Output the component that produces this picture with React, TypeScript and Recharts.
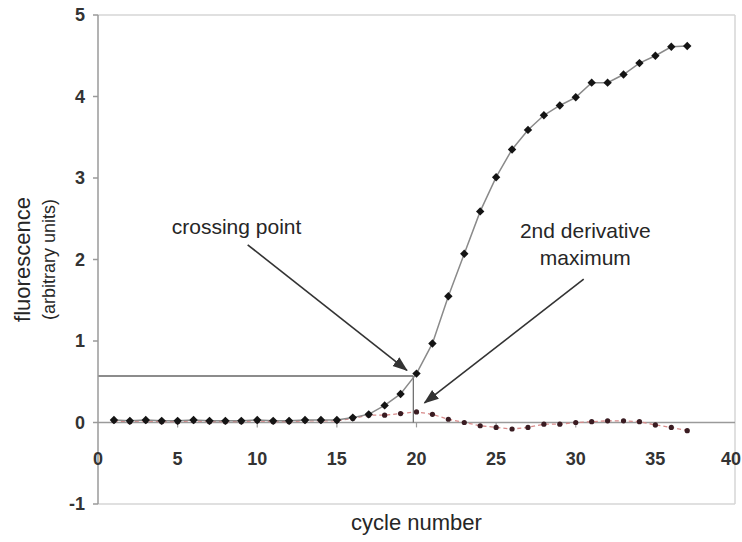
import React from "react"
import { LineChart, Line, XAxis, YAxis, ReferenceLine, ReferenceDot } from "recharts"

const cycles = [1, 2, 3, 4, 5, 6, 7, 8, 9, 10, 11, 12, 13, 14, 15, 16, 17, 18, 19, 20, 21, 22, 23, 24, 25, 26, 27, 28, 29, 30, 31, 32, 33, 34, 35, 36, 37]
const fluorescence = [
  0.03, 0.02, 0.03, 0.02, 0.02, 0.03, 0.02, 0.02, 0.02, 0.03, 0.02, 0.02, 0.03, 0.03, 0.03, 0.06, 0.1, 0.21, 0.35,
  0.6, 0.97, 1.55, 2.07, 2.59, 3.01, 3.35, 3.59, 3.77, 3.89, 3.99, 4.17, 4.17, 4.27, 4.41, 4.5, 4.61, 4.62,
]
const secondDerivative = [
  0.02, 0.01, 0.02, 0.01, 0.01, 0.02, 0.01, 0.01, 0.01, 0.02, 0.01, 0.01, 0.02, 0.02, 0.02, 0.05, 0.09, 0.09, 0.11,
  0.13, 0.1, 0.04, 0.0, -0.04, -0.06, -0.08, -0.06, -0.02, -0.02, 0.0, 0.01, 0.02, 0.02, 0.01, -0.03, -0.06, -0.1,
]
const xTicks = [0, 5, 10, 15, 20, 25, 30, 35, 40]
const yTicks = [-1, 0, 1, 2, 3, 4, 5]

// crossing point guide lines and annotation arrows (data coordinates)
const crossing = { x: 19.8, y: 0.57 }
const crossingArrow = [{ x: 9.4, y: 2.18 }, { x: 19.4, y: 0.64 }]
const derivArrow = [{ x: 30.5, y: 1.76 }, { x: 20.5, y: 0.24 }]

const data = cycles.map((c, i) => ({ cycle: c, fluor: fluorescence[i], deriv: secondDerivative[i] }))

const font = "'Liberation Sans', Arial, sans-serif"
const ink = "#262626"

const Diamond = (props: any) => {
  const { cx, cy, index } = props
  const s = 4.2
  return (
    <polygon
      key={`d-${index}`}
      points={`${cx},${cy - s} ${cx + s},${cy} ${cx},${cy + s} ${cx - s},${cy}`}
      fill="#141414"
    />
  )
}

const SmallDot = (props: any) => {
  const { cx, cy, index } = props
  return <circle key={`s-${index}`} cx={cx} cy={cy} r={2.6} fill="#3a1c22" />
}

const XTick = (props: any) => {
  const { x, y, payload } = props
  // last label sits against the right edge, keep it inside the picture
  const isLast = payload.value === xTicks[xTicks.length - 1]
  return (
    <text
      x={isLast ? x + 6 : x}
      y={y - 47}
      textAnchor={isLast ? "end" : "middle"}
      fontSize={18}
      fontWeight="bold"
      fill="#333"
      fontFamily={font}
    >
      {payload.value}
    </text>
  )
}

const YTitle = (props: any) => {
  const vb = props.viewBox || { y: 15, height: 489 }
  const cy = vb.y + vb.height / 2
  return (
    <g fontFamily={font} fill={ink}>
      <text x={22} y={cy} transform={`rotate(-90 22 ${cy})`} textAnchor="middle" dominantBaseline="central" fontSize={22}>
        fluorescence
      </text>
      <text x={49} y={cy} transform={`rotate(-90 49 ${cy})`} textAnchor="middle" dominantBaseline="central" fontSize={18}>
        (arbitrary units)
      </text>
    </g>
  )
}

const arrowShape = (props: any) => (
  <line
    x1={props.x1}
    y1={props.y1}
    x2={props.x2}
    y2={props.y2}
    stroke="#333"
    strokeWidth={1.6}
    markerEnd="url(#arrowHead)"
  />
)

const noteLabel = (value: string) => ({ value, position: "center" as const, fontSize: 21, fill: ink, fontFamily: font })

export default function App() {
  return (
    <div style={{ position: "absolute", left: 0, top: 0, width: 742, height: 542, background: "#fff" }}>
      <svg width={0} height={0} style={{ position: "absolute" }}>
        <defs>
          <marker id="arrowHead" markerUnits="userSpaceOnUse" markerWidth={16} markerHeight={12} refX={14} refY={5.5} orient="auto">
            <path d="M0,0 L15,5.5 L0,11 z" fill="#333" />
          </marker>
        </defs>
      </svg>
      <LineChart width={742} height={542} data={data} margin={{ top: 15, right: 7, bottom: 37, left: 0 }}>
        <XAxis
          dataKey="cycle"
          type="number"
          domain={[0, 40]}
          ticks={xTicks}
          axisLine={false}
          tickLine={false}
          height={1}
          tick={<XTick />}
          interval={0}
          label={{ value: "cycle number", position: "bottom", offset: 9, fontSize: 22, fill: ink, fontFamily: font }}
        />
        <YAxis
          type="number"
          domain={[-1, 5]}
          ticks={yTicks}
          width={98}
          interval={0}
          stroke="#9a9a9a"
          strokeWidth={1.5}
          tickSize={5}
          tickMargin={8}
          tick={{ fontSize: 18, fontWeight: "bold", fill: "#333", fontFamily: font }}
          label={<YTitle />}
        />
        <ReferenceLine y={5} stroke="#d6d6d6" strokeWidth={1.5} />
        <ReferenceLine y={-1} stroke="#d6d6d6" strokeWidth={1.5} />
        <ReferenceLine x={40} stroke="#d6d6d6" strokeWidth={1.5} />
        <ReferenceLine y={0} stroke="#9a9a9a" strokeWidth={1.5} />
        {xTicks.slice(1, -1).map((t) => (
          <ReferenceLine key={t} segment={[{ x: t, y: 0 }, { x: t, y: -0.06 }]} stroke="#9a9a9a" strokeWidth={1.2} />
        ))}
        <ReferenceLine segment={[{ x: 0, y: crossing.y }, { x: crossing.x, y: crossing.y }]} stroke="#666" strokeWidth={1.6} />
        <ReferenceLine segment={[{ x: crossing.x, y: crossing.y }, { x: crossing.x, y: 0 }]} stroke="#666" strokeWidth={1.2} />
        <ReferenceLine segment={crossingArrow} shape={arrowShape} />
        <ReferenceLine segment={derivArrow} shape={arrowShape} />
        <ReferenceDot x={8.7} y={2.4} r={0} fill="none" stroke="none" label={noteLabel("crossing point")} />
        <ReferenceDot x={30.6} y={2.36} r={0} fill="none" stroke="none" label={noteLabel("2nd derivative")} />
        <ReferenceDot x={30.6} y={2.02} r={0} fill="none" stroke="none" label={noteLabel("maximum")} />
        <Line
          type="linear"
          dataKey="deriv"
          stroke="#d88a8a"
          strokeWidth={1.3}
          strokeDasharray="4 3"
          dot={SmallDot}
          isAnimationActive={false}
        />
        <Line
          type="linear"
          dataKey="fluor"
          stroke="#8a8a8a"
          strokeWidth={1.5}
          dot={Diamond}
          isAnimationActive={false}
        />
      </LineChart>
    </div>
  )
}
